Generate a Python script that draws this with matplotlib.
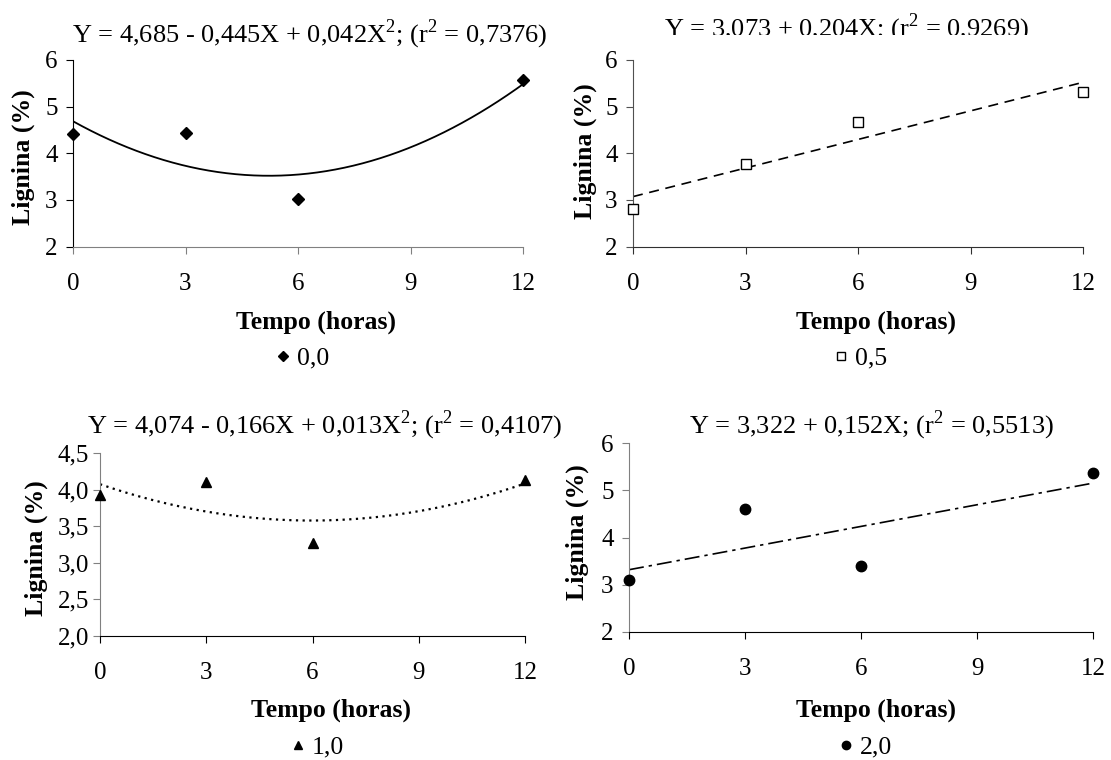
import matplotlib
matplotlib.use("Agg")
import matplotlib.pyplot as plt
import numpy as np
from matplotlib.lines import Line2D
from matplotlib.patches import Rectangle

W, H = 1111, 760

TEMPO = [0, 3, 6, 12]
LIGNINA_00 = [4.42, 4.44, 3.01, 5.57]
LIGNINA_05 = [2.81, 3.78, 4.67, 5.31]
LIGNINA_10 = [3.92, 4.11, 3.27, 4.135]
LIGNINA_20 = [3.11, 4.61, 3.40, 5.36]

X_TICKS = [0, 3, 6, 9, 12]
Y_TICKS = [2, 3, 4, 5, 6]
Y_TICKS_10 = [2.0, 2.5, 3.0, 3.5, 4.0, 4.5]
Y_LABELS_10 = ["2,0", "2,5", "3,0", "3,5", "4,0", "4,5"]

EQ_00 = "Y = 4,685 - 0,445X + 0,042X$^2$; (r$^2$ = 0,7376)"
EQ_05 = "Y = 3,073 + 0,204X; (r$^2$ = 0,9269)"
EQ_10 = "Y = 4,074 - 0,166X + 0,013X$^2$; (r$^2$ = 0,4107)"
EQ_20 = "Y = 3,322 + 0,152X; (r$^2$ = 0,5513)"

plt.rcParams["font.family"] = ["Liberation Serif", "DejaVu Serif"]
plt.rcParams["mathtext.fontset"] = "custom"
plt.rcParams["mathtext.rm"] = "Liberation Serif"
plt.rcParams["font.size"] = 18


def px(x, y):
    return x / W, 1 - y / H


def box(x0, y0, x1, y1):
    return [x0 / W, 1 - y1 / H, (x1 - x0) / W, (y1 - y0) / H]


def panel(fig, rect, y, deg, marker, ms, mfc, line_kw, ylim, yticks, ylabels,
          spine_colors, title, title_xy, xlabel_xy, ylabel_xy, legend_xy, legend_text, ypad):
    ax = fig.add_axes(box(*rect))
    grid = np.linspace(0, 12, 200)
    fit = np.polyval(np.polyfit(TEMPO, y, deg), grid)
    ax.plot(grid, fit, color="black", **line_kw)
    ax.plot(TEMPO, y, linestyle="none", marker=marker, ms=ms, mfc=mfc,
            mec="black", mew=1.0, clip_on=False, zorder=5)
    ax.set_xlim(0, 12)
    ax.set_ylim(*ylim)
    ax.set_xticks(X_TICKS)
    ax.set_yticks(yticks)
    if ylabels is not None:
        ax.set_yticklabels(ylabels)
    for side in ("top", "right"):
        ax.spines[side].set_visible(False)
    left_color, bottom_color = spine_colors
    ax.spines["left"].set_color(left_color)
    ax.spines["bottom"].set_color(bottom_color)
    ax.tick_params(axis="x", direction="out", length=5, width=0.8, color=bottom_color, pad=14, labelsize=18)
    ax.tick_params(axis="y", direction="out", length=5, width=0.8, color=left_color, pad=ypad, labelsize=18)
    ax.patch.set_alpha(0)

    fig.text(*px(*title_xy), title, ha="center", va="baseline", fontsize=19)
    fig.text(*px(*xlabel_xy), "Tempo (horas)", ha="center", va="center",
             fontsize=18.5, fontweight="bold")
    fig.text(*px(*ylabel_xy), "Lignina (%)", ha="center", va="center",
             rotation=90, fontsize=18.5, fontweight="bold")
    handle = Line2D([], [], linestyle="none", marker=marker, ms=ms * 0.8,
                    mfc=mfc, mec="black", mew=1.0)
    fig.legend([handle], [legend_text], loc="center", frameon=False,
               bbox_to_anchor=px(*legend_xy), handlelength=0.5,
               handletextpad=0.3, borderpad=0, fontsize=18.5)
    return ax


def main() -> None:
    fig = plt.figure(figsize=(W / 100, H / 100), dpi=100)

    panel(fig, (73, 60, 523, 246.5), LIGNINA_00, 2, "D", 6, "black",
          dict(lw=1.3, linestyle="-"), (2, 6), Y_TICKS, None, ("black", "#808080"),
          EQ_00, (310, 42), (316, 322), (23, 157), (303, 358), "0,0", 6)

    panel(fig, (633, 60, 1083, 246.5), LIGNINA_05, 1, "s", 7, "white",
          dict(lw=1.2, linestyle=(0, (6, 4))), (2, 6), Y_TICKS, None, ("#505050", "#303030"),
          EQ_05, (846, 36), (876, 322), (585, 151), (861, 358), "0,5", 6)

    panel(fig, (100, 453, 525, 636), LIGNINA_10, 2, "^", 7, "black",
          dict(lw=1.6, linestyle=(0, (1, 2))), (2.0, 4.5), Y_TICKS_10, Y_LABELS_10, ("#808080", "black"),
          EQ_10, (325, 433), (331, 710), (36, 548), (318, 747), "1,0", 3)

    panel(fig, (629, 443, 1093, 632), LIGNINA_20, 1, "o", 7.5, "black",
          dict(lw=1.2, linestyle=(0, (9, 3, 2, 3))), (2, 6), Y_TICKS, None, ("#808080", "black"),
          EQ_20, (871, 433), (876, 710), (577, 532), (866, 747), "2,0", 6)

    # the second equation box is cut along its lower edge in the source figure
    x0, y0 = px(650, 56)
    fig.patches.append(Rectangle((x0, y0), 400 / W, 20.5 / H, transform=fig.transFigure,
                                 facecolor="white", edgecolor="none", zorder=10))

    fig.savefig("out.png", dpi=100, facecolor="white")
    plt.close(fig)


if __name__ == "__main__":
    main()
